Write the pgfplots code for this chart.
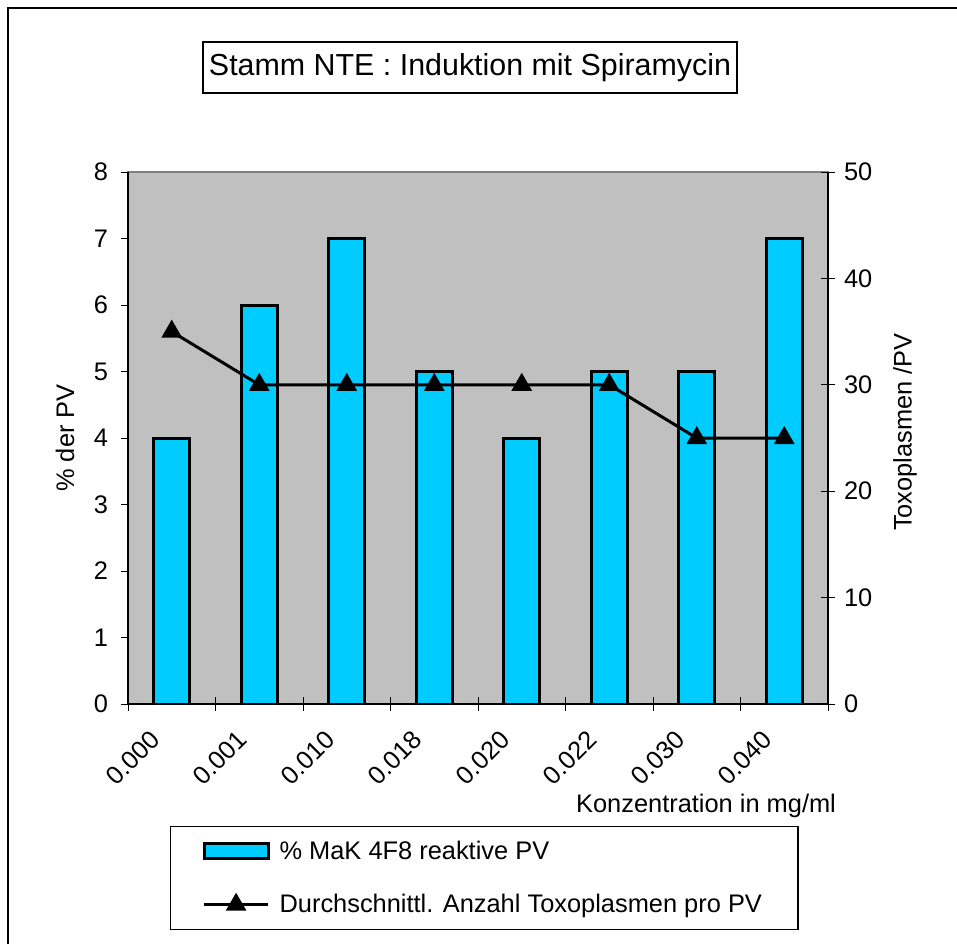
\documentclass[border=0pt]{standalone}
\usepackage{fontspec}
\setmainfont{Liberation Sans}
\usepackage{pgfplots}
\pgfplotsset{compat=1.18}
\definecolor{plotgray}{HTML}{C0C0C0}
\definecolor{framegray}{HTML}{808080}
\definecolor{barcyan}{HTML}{00CCFF}
\pgfplotsset{
  lineleg/.style={legend image code/.code={\draw[##1, mark repeat=2, mark phase=2] plot coordinates {(0pt,0pt) (16pt,0pt) (32pt,0pt)};}},
  barleg/.style={legend image code/.code={\draw[fill=barcyan, draw=black, line width=1.5pt] (0pt,-3.75pt) rectangle (32pt,3.75pt);}},
}
\begin{document}
\begin{tikzpicture}[x=0.5pt,y=-0.5pt]
\useasboundingbox (0,0) rectangle (957,944);
\draw[line width=1pt] (8,944) -- (8,8) -- (957,8);
\node[draw=black, line width=0.6pt, minimum width=267pt, minimum height=25.5pt, inner sep=0pt,
  font=\fontsize{15.2}{18}\selectfont] at (470,67.5) {Stamm NTE : Induktion mit Spiramycin};

\begin{axis}[
  at={(64pt,-352pt)}, anchor=south west, scale only axis,
  width=350pt, height=266pt,
  xmin=-0.5, xmax=7.5, ymin=0, ymax=8,
  axis y line*=left, axis x line*=bottom,
  axis line style={line width=1pt, -},
  axis background/.style={fill=plotgray, draw=framegray, line width=1pt},
  xtick={0,...,7},
  xticklabels={0.000,0.001,0.010,0.018,0.020,0.022,0.030,0.040},
  x tick style={draw=none},
  ytick={0,...,8},
  tick align=outside, major tick length=3.5pt,
  y tick style={black, line width=0.5pt},
  ybar, bar width=18pt,
  font=\fontsize{12.7}{15}\selectfont,
  tick label style={font=\fontsize{12.7}{15}\selectfont},
  /pgf/number format/assume math mode=true,
  yticklabel style={xshift=-3pt},
  xticklabel style={rotate=45, anchor=east, xshift=-11pt, yshift=-2.6pt},
  every axis y label/.style={at={(axis description cs:-0.09,0.5)}, rotate=90, anchor=center},
  ylabel={\% der PV},
  every axis x label/.style={at={(axis description cs:1.0214,-0.1917)}, anchor=east},
  xlabel={Konzentration in mg/ml},
]
\addplot[fill=barcyan, draw=black, line width=1.5pt] coordinates {(0,4) (1,6) (2,7) (3,5) (4,4) (5,5) (6,5) (7,7)};
\end{axis}

\begin{axis}[
  at={(64pt,-352pt)}, anchor=south west, scale only axis,
  width=350pt, height=266pt,
  xmin=-0.5, xmax=7.5, ymin=0, ymax=50,
  axis y line*=right, axis x line*=bottom,
  axis line style={line width=1pt, -},
  xtick={-0.5,0.5,...,7.5}, xticklabels={},
  ytick={0,10,...,50},
  tick align=center, major tick length=7pt,
  tick style={black, line width=0.5pt},
  font=\fontsize{12.7}{15}\selectfont,
  tick label style={font=\fontsize{12.7}{15}\selectfont},
  /pgf/number format/assume math mode=true,
  yticklabel style={xshift=1pt},
  every axis y label/.style={at={(axis description cs:1.11,0.511)}, rotate=90, anchor=center},
  ylabel={Toxoplasmen /PV},
  clip=false,
  legend cell align=left,
  legend style={at={(axis description cs:0.06,-0.2293)}, anchor=north west,
    draw=black, line width=0.6pt, font=\fontsize{12.7}{15}\selectfont,
    inner xsep=16pt, inner ysep=5pt, row sep=12pt, column sep=3pt},
]
\addlegendimage{barleg}
\addlegendentry{\% MaK 4F8 reaktive PV}
\addplot[black, line width=1.5pt, mark=triangle*, mark size=4.5pt, mark options={solid}, lineleg]
  coordinates {(0,35) (1,30) (2,30) (3,30) (4,30) (5,30) (6,25) (7,25)};
\addlegendentry{Durchschnittl. Anzahl Toxoplasmen pro PV}
\end{axis}
\end{tikzpicture}
\end{document}
